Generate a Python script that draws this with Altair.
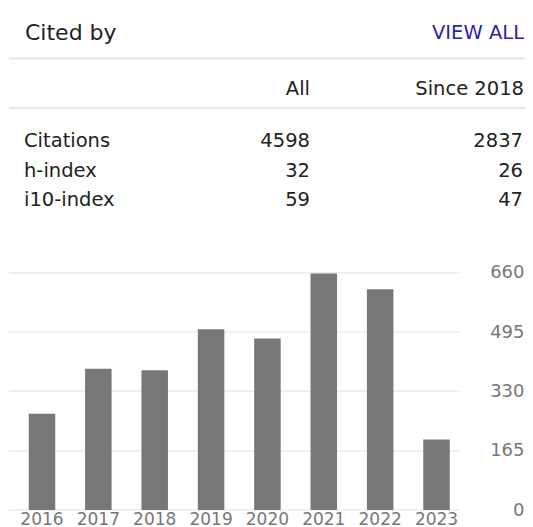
import altair as alt
import pandas as pd

# ---- data ----
title_text = "Cited by"
link_text = "VIEW ALL"
col_headers = ["All", "Since 2018"]
metrics = ["Citations", "h-index", "i10-index"]
all_vals = [4598, 32, 59]
since_vals = [2837, 26, 47]
years = ["2016", "2017", "2018", "2019", "2020", "2021", "2022", "2023"]
citations = [268, 393, 389, 503, 477, 658, 614, 196]
y_ticks = [0, 165, 330, 495, 660]

FONT = "DejaVu Sans"
W, H = 517, 519

bars_df = pd.DataFrame({"year": years, "cites": citations})
ticks_df = pd.DataFrame({"v": y_ticks})
table_df = pd.DataFrame({
    "metric": metrics,
    "all": [str(v) for v in all_vals],
    "since": [str(v) for v in since_vals],
})
head_df = pd.DataFrame({
    "title": [title_text],
    "link": [link_text],
    "h_all": [col_headers[0]],
    "h_since": [col_headers[1]],
})

y_scale = alt.Scale(domain=[0, 660], range=[502, 264.7], nice=False, zero=True)
row_scale = alt.Scale(type="point", domain=metrics, range=[133, 192], padding=0)

# separators
sep1 = alt.Chart(head_df).mark_rule(color="#e0e0e0", strokeWidth=1.6).encode(
    x=alt.value(1), x2=alt.value(530), y=alt.value(50.5))
sep2 = alt.Chart(head_df).mark_rule(color="#e0e0e0", strokeWidth=1.6).encode(
    x=alt.value(1), x2=alt.value(530), y=alt.value(100))

# header texts
title = alt.Chart(head_df).mark_text(align="left", font=FONT, fontSize=22, color="#222").encode(
    text="title:N", x=alt.value(17), y=alt.value(25))
link = alt.Chart(head_df).mark_text(align="right", font=FONT, fontSize=19.5, color="#2a1fae").encode(
    text="link:N", x=alt.value(516), y=alt.value(25))
h_all = alt.Chart(head_df).mark_text(align="right", font=FONT, fontSize=19.5, color="#222").encode(
    text="h_all:N", x=alt.value(302), y=alt.value(81))
h_since = alt.Chart(head_df).mark_text(align="right", font=FONT, fontSize=19.5, color="#222").encode(
    text="h_since:N", x=alt.value(516), y=alt.value(81))

# table rows
t_lab = alt.Chart(table_df).mark_text(align="left", font=FONT, fontSize=19.5, color="#222").encode(
    text="metric:N", x=alt.value(16),
    y=alt.Y("metric:N", scale=row_scale, axis=None))
t_all = alt.Chart(table_df).mark_text(align="right", font=FONT, fontSize=19.5, color="#222").encode(
    text="all:N", x=alt.value(302),
    y=alt.Y("metric:N", scale=row_scale, axis=None))
t_since = alt.Chart(table_df).mark_text(align="right", font=FONT, fontSize=19.5, color="#222").encode(
    text="since:N", x=alt.value(515),
    y=alt.Y("metric:N", scale=row_scale, axis=None))

# gridlines
grid = alt.Chart(ticks_df).mark_rule(color="#ececec", strokeWidth=1.5).encode(
    x=alt.value(1), x2=alt.value(452),
    y=alt.Y("v:Q", scale=y_scale, axis=None))

# bars
bars = alt.Chart(bars_df).mark_bar(color="#777777").encode(
    x=alt.X("year:O", sort=years,
            scale=alt.Scale(domain=years, range=[5.8, 456.7], paddingInner=0.53, paddingOuter=0.265),
            axis=alt.Axis(orient="bottom", offset=-16, labelPadding=0, ticks=False, domain=False,
                          labelFont=FONT, labelFontSize=17, labelColor="#777777", labelAngle=0,
                          title=None, grid=False)),
    y=alt.Y("cites:Q", scale=y_scale,
            axis=alt.Axis(orient="right", values=y_ticks, labelAlign="right", labelPadding=-1,
                          ticks=False, domain=False, grid=False, title=None,
                          labelFont=FONT, labelFontSize=18, labelColor="#777777")),
)

chart = alt.layer(
    sep1, sep2, title, link, h_all, h_since, t_lab, t_all, t_since, grid, bars
).resolve_scale(x="independent", y="independent").properties(
    width=W, height=H, padding=0, autosize=alt.AutoSizeParams(type="none"),
    background="white",
).configure_view(stroke=None)

chart.save("out.html", embed_options={"renderer": "svg", "actions": False})
